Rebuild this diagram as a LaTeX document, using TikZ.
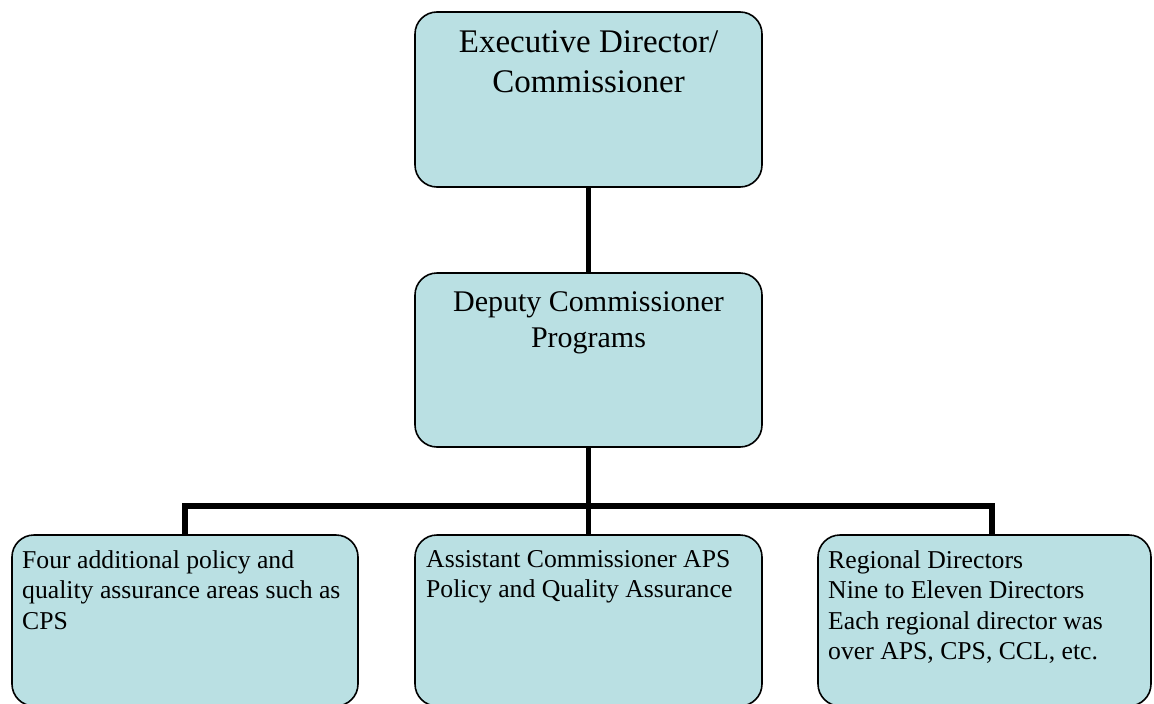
\documentclass[tikz,border=0pt]{standalone}
\usepackage{fontspec}
\setmainfont{Liberation Serif}
\definecolor{boxfill}{HTML}{BAE0E3}
\begin{document}
\begin{tikzpicture}[x=1pt, y=-1pt,
    orgbox/.style={draw=black, line width=1.6pt, fill=boxfill, rounded corners=22pt, inner sep=0pt, outer sep=0pt},
    conn/.style={line width=5.5pt},
    headtxt/.style={inner sep=0pt, align=center, anchor=north},
    subtxt/.style={inner sep=0pt, align=left, anchor=north west, font=\fontsize{25.7}{30.5}\selectfont}]
    \useasboundingbox (0,0) rectangle (1154,704);

    % boxes
    \node[orgbox, minimum width=347pt, minimum height=175pt] (exec) at (588.5,99.5) {};
    \node[orgbox, minimum width=347pt, minimum height=174pt] (dep) at (588.5,360) {};
        \node[orgbox, minimum width=346pt, minimum height=171pt] (four) at (185,620.5) {};
        \node[orgbox, minimum width=347pt, minimum height=171pt] (asst) at (588.5,620.5) {};
        \node[orgbox, minimum width=333pt, minimum height=171pt] (regional) at (984.5,620.5) {};

    % texts
    \node[headtxt, font=\fontsize{33}{40}\selectfont] (execT) at (588.5,30) {Executive Director/\\Commissioner};
    \node[headtxt, font=\fontsize{30}{36}\selectfont] (depT) at (588.5,291) {Deputy Commissioner\\Programs};
    \node[subtxt] (fourT) at (22,550) {Four additional policy and\\quality assurance areas such as\\CPS};
    \node[subtxt] (asstT) at (426,550) {Assistant Commissioner APS\\Policy and Quality Assurance};
    \node[subtxt] (regionalT) at (828,550) {Regional Directors\\Nine to Eleven Directors\\Each regional director was\\over APS, CPS, CCL, etc.};

    % connectors
    \coordinate (bar) at (588.5,506);
    \coordinate (rdrop) at (992,535);
    \draw[conn] (exec) -- (dep);
    \draw[conn] (dep) -- (asst);
    \draw[conn] (four.north) |- (bar) -| (rdrop);
\end{tikzpicture}
\end{document}
